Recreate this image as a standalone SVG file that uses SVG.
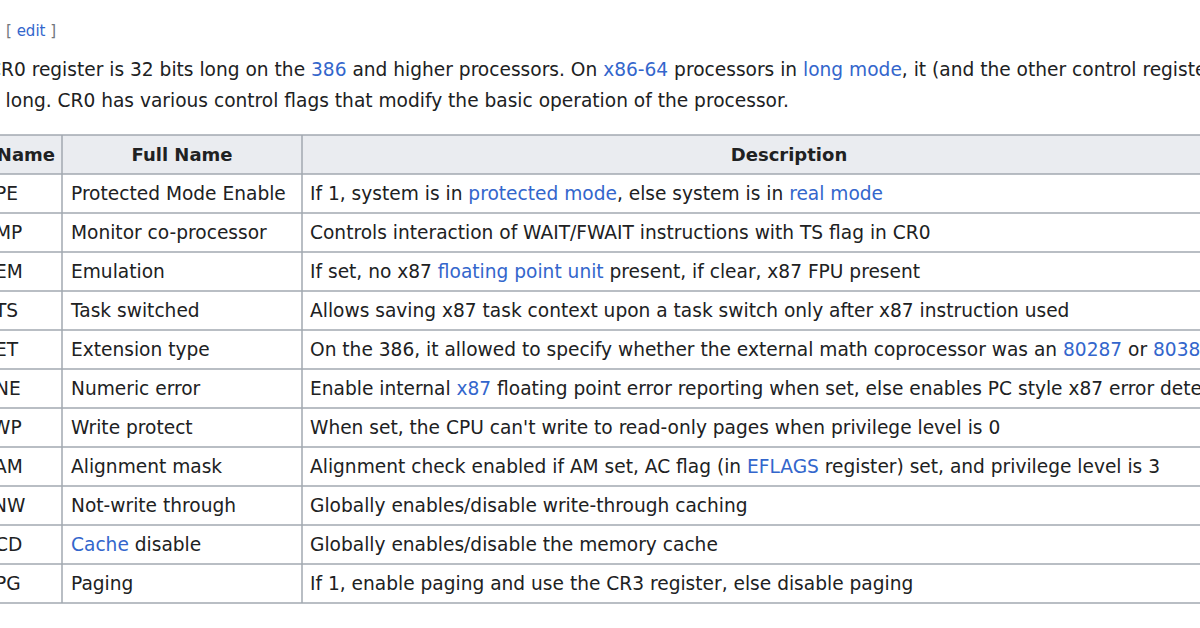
<svg xmlns="http://www.w3.org/2000/svg" width="1200" height="628" viewBox="0 0 1200 628">
<style>
text{font-family:"DejaVu Sans",sans-serif;font-size:18.6px;fill:#202122}
.a{fill:#3366cc}
.h{font-weight:bold;text-anchor:middle;font-size:18px}
.g{stroke:#a2a9b1;stroke-width:1.5;fill:none}
</style>
<rect width="1200" height="628" fill="#fff"/>
<text x="6" y="36" style="font-size:15px;fill:#72777d">[ <tspan class="a">edit</tspan> ]</text>
<text x="-12" y="76" style="font-size:18.6px">CR0 register is 32 bits long on the <tspan class="a">386</tspan> and higher processors. On <tspan class="a">x86-64</tspan> processors in <tspan class="a">long mode</tspan>, it (and the other control registers) is 64 bits</text>
<text x="-10" y="107" style="font-size:18.6px">s long. CR0 has various control flags that modify the basic operation of the processor.</text>
<rect x="-20" y="135" width="1240" height="39" fill="#eaecf0"/>
<g class="g">
<line x1="-20" y1="135" x2="1220" y2="135"/>
<line x1="-20" y1="174" x2="1220" y2="174"/>
<line x1="-20" y1="213" x2="1220" y2="213"/>
<line x1="-20" y1="252" x2="1220" y2="252"/>
<line x1="-20" y1="291" x2="1220" y2="291"/>
<line x1="-20" y1="330" x2="1220" y2="330"/>
<line x1="-20" y1="369" x2="1220" y2="369"/>
<line x1="-20" y1="408" x2="1220" y2="408"/>
<line x1="-20" y1="447" x2="1220" y2="447"/>
<line x1="-20" y1="486" x2="1220" y2="486"/>
<line x1="-20" y1="525" x2="1220" y2="525"/>
<line x1="-20" y1="564" x2="1220" y2="564"/>
<line x1="-20" y1="603" x2="1220" y2="603"/>
<line x1="62" y1="135" x2="62" y2="603"/>
<line x1="302" y1="135" x2="302" y2="603"/>
</g>
<text x="55" y="161" class="h" style="text-anchor:end">Name</text>
<text x="182" y="161" class="h">Full Name</text>
<text x="789" y="161" class="h">Description</text>
<g>
<text x="-5" y="200">PE</text><text x="71" y="200">Protected Mode Enable</text><text x="310" y="200">If 1, system is in <tspan class="a">protected mode</tspan>, else system is in <tspan class="a">real mode</tspan></text>
<text x="-5" y="239">MP</text><text x="71" y="239">Monitor co-processor</text><text x="310" y="239">Controls interaction of WAIT/FWAIT instructions with TS flag in CR0</text>
<text x="-5" y="278">EM</text><text x="71" y="278">Emulation</text><text x="310" y="278">If set, no x87 <tspan class="a">floating point unit</tspan> present, if clear, x87 FPU present</text>
<text x="-5" y="317">TS</text><text x="71" y="317">Task switched</text><text x="310" y="317">Allows saving x87 task context upon a task switch only after x87 instruction used</text>
<text x="-5" y="356">ET</text><text x="71" y="356">Extension type</text><text x="310" y="356">On the 386, it allowed to specify whether the external math coprocessor was an <tspan class="a">80287</tspan> or <tspan class="a">80387</tspan></text>
<text x="-5" y="395">NE</text><text x="71" y="395">Numeric error</text><text x="310" y="395">Enable internal <tspan class="a">x87</tspan> floating point error reporting when set, else enables PC style x87 error detection</text>
<text x="-8" y="434">WP</text><text x="71" y="434">Write protect</text><text x="310" y="434">When set, the CPU can't write to read-only pages when privilege level is 0</text>
<text x="-6" y="473">AM</text><text x="71" y="473">Alignment mask</text><text x="310" y="473">Alignment check enabled if AM set, AC flag (in <tspan class="a">EFLAGS</tspan> register) set, and privilege level is 3</text>
<text x="-7" y="512">NW</text><text x="71" y="512">Not-write through</text><text x="310" y="512">Globally enables/disable write-through caching</text>
<text x="-5" y="551">CD</text><text x="71" y="551"><tspan class="a">Cache</tspan> disable</text><text x="310" y="551">Globally enables/disable the memory cache</text>
<text x="-5" y="590">PG</text><text x="71" y="590">Paging</text><text x="310" y="590">If 1, enable paging and use the CR3 register, else disable paging</text>
</g>
</svg>
